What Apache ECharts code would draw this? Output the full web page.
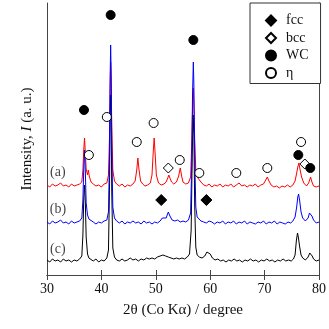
<!DOCTYPE html>
<html>
<head>
<meta charset="utf-8">
<script src="https://cdn.jsdelivr.net/npm/echarts@6/dist/echarts.min.js"></script>
<style>
  html, body {margin:0; padding:0; background:#fff;}
  #wrap1 {width:329px; height:329px;}
</style>
</head>
<body>
<div id="wrap1"></div>
<script>
// x axis ticks (2θ, degree)
var xTicks = [30, 40, 50, 60, 70, 80];

// XRD patterns: [2θ, intensity (a.u., offset)]
var patternA = [[30.0,90],[30.5,88],[31.0,91],[31.5,89],[32.0,90],[32.5,92],[33.0,89],[33.5,90],[34.0,88],[34.5,91],[35.0,89],[35.5,90],[36.0,91],[36.4,93],[36.6,105],[36.75,125],[36.9,137],[37.05,122],[37.2,106],[37.45,100],[37.6,105],[37.8,98],[38.1,93],[38.5,91],[39.0,89],[39.5,90],[40.0,88],[40.5,91],[41.0,92],[41.3,100],[41.5,140],[41.6,185],[41.7,213],[41.8,190],[41.9,150],[42.1,105],[42.4,94],[42.8,91],[43.3,89],[43.8,91],[44.3,88],[44.8,90],[45.3,89],[45.8,91],[46.2,94],[46.5,105],[46.7,117],[46.9,106],[47.2,94],[47.6,91],[48.0,89],[48.5,90],[49.0,92],[49.3,100],[49.55,125],[49.7,137],[49.85,124],[50.1,100],[50.5,92],[51.0,90],[51.5,91],[51.9,93],[52.2,97],[52.4,100],[52.6,97],[52.9,93],[53.3,91],[53.8,93],[54.2,99],[54.5,107],[54.75,99],[55.0,93],[55.5,91],[56.0,92],[56.4,98],[56.6,130],[56.75,165],[56.9,187],[57.0,170],[57.15,135],[57.35,105],[57.6,98],[57.9,97],[58.3,93],[58.8,90],[59.3,89],[59.8,91],[60.3,88],[60.8,90],[61.3,89],[61.8,91],[62.3,88],[62.8,90],[63.3,89],[63.8,91],[64.3,88],[64.8,90],[65.3,92],[65.8,89],[66.3,90],[66.8,88],[67.3,90],[67.8,89],[68.3,91],[68.8,88],[69.3,90],[69.8,91],[70.2,95],[70.5,98],[70.8,94],[71.2,90],[71.7,88],[72.2,89],[72.7,87],[73.2,89],[73.7,88],[74.2,90],[74.7,88],[75.2,90],[75.6,94],[75.9,102],[76.1,108],[76.3,112],[76.5,106],[76.8,98],[77.2,92],[77.7,89],[78.1,92],[78.45,98],[78.7,93],[79.0,89],[79.5,88],[80.0,89]];
var patternB = [[30.0,53],[30.5,51],[31.0,54],[31.5,52],[32.0,53],[32.5,55],[33.0,52],[33.5,53],[34.0,51],[34.5,54],[35.0,52],[35.5,53],[36.0,54],[36.4,57],[36.6,75],[36.75,105],[36.9,125],[37.05,103],[37.2,72],[37.45,60],[37.7,56],[38.0,54],[38.5,53],[39.0,51],[39.5,53],[40.0,52],[40.5,54],[41.0,55],[41.3,63],[41.5,120],[41.6,195],[41.7,230],[41.8,200],[41.9,130],[42.1,68],[42.4,57],[42.8,54],[43.3,52],[43.8,54],[44.3,51],[44.8,53],[45.3,52],[45.8,54],[46.3,52],[46.8,53],[47.3,51],[47.8,54],[48.3,52],[48.8,53],[49.3,51],[49.8,53],[50.3,52],[50.8,54],[51.2,57],[51.5,55],[51.9,57],[52.3,63],[52.6,59],[53.0,55],[53.5,54],[54.0,55],[54.5,53],[55.0,54],[55.5,53],[56.0,55],[56.4,62],[56.6,110],[56.75,180],[56.9,213],[57.0,190],[57.15,120],[57.35,68],[57.6,58],[57.9,56],[58.3,54],[58.8,53],[59.3,52],[59.8,54],[60.3,53],[60.8,51],[61.3,53],[61.8,52],[62.3,54],[62.8,51],[63.3,53],[63.8,52],[64.3,54],[64.8,51],[65.3,53],[65.8,52],[66.3,54],[66.8,51],[67.3,53],[67.8,52],[68.3,51],[68.8,53],[69.3,52],[69.8,54],[70.3,51],[70.8,53],[71.3,52],[71.8,54],[72.3,51],[72.8,53],[73.3,52],[73.8,51],[74.3,53],[74.8,52],[75.2,54],[75.6,58],[75.9,68],[76.1,78],[76.25,81],[76.45,74],[76.7,63],[77.0,57],[77.5,54],[78.0,57],[78.25,62],[78.45,64],[78.7,59],[79.0,55],[79.5,52],[80.0,53]];
var patternC = [[30.0,15],[30.5,13],[31.0,16],[31.5,14],[32.0,15],[32.5,13],[33.0,16],[33.5,14],[34.0,15],[34.5,13],[35.0,15],[35.5,14],[36.0,16],[36.4,19],[36.6,40],[36.75,75],[36.9,90],[37.05,72],[37.2,38],[37.45,21],[37.7,17],[38.0,15],[38.5,14],[39.0,16],[39.5,13],[40.0,15],[40.5,14],[41.0,17],[41.3,25],[41.5,90],[41.6,160],[41.7,180],[41.8,155],[41.9,85],[42.1,27],[42.4,18],[42.8,15],[43.3,14],[43.8,16],[44.3,14],[44.8,15],[45.3,17],[45.8,15],[46.3,16],[46.8,14],[47.3,16],[47.8,15],[48.3,17],[48.8,16],[49.3,17],[49.8,16],[50.3,18],[50.8,19],[51.3,20],[51.8,19],[52.3,18],[52.8,17],[53.3,16],[53.8,17],[54.3,16],[54.8,17],[55.3,16],[55.8,18],[56.2,21],[56.5,45],[56.7,120],[56.85,160],[57.0,140],[57.15,70],[57.35,28],[57.6,20],[58.0,18],[58.5,17],[59.0,19],[59.4,23],[59.7,25],[60.0,21],[60.4,17],[60.9,15],[61.4,16],[61.9,14],[62.4,15],[62.9,13],[63.4,15],[63.9,14],[64.4,16],[64.9,14],[65.4,15],[65.9,13],[66.4,15],[66.9,14],[67.4,16],[67.9,14],[68.4,15],[68.9,13],[69.4,15],[69.9,14],[70.4,16],[70.9,14],[71.4,15],[71.9,13],[72.4,15],[72.9,14],[73.4,16],[73.9,14],[74.4,15],[74.9,14],[75.3,16],[75.6,20],[75.85,35],[76.05,42],[76.2,38],[76.45,28],[76.7,20],[77.0,17],[77.5,15],[78.0,18],[78.3,22],[78.5,23],[78.75,19],[79.0,16],[79.5,14],[80.0,15]];

// phase markers
var fccMarks = [[51.0,75],[59.3,75]];
var bccMarks = [[52.3,107],[77.4,111]];
var wcMarks  = [[36.8,165],[41.7,260],[56.9,235],[76.2,120],[78.4,107]];
var etaMarks = [[37.7,120],[41.0,158],[46.5,133],[49.6,152],[54.4,115],[58.0,102],[64.8,102],[70.5,107],[76.7,133]];

// sample labels and where they sit
var sampleNames = ['(a)', '(b)', '(c)'];
var sampleLabelAt = [[32.0,103],[32.0,66],[32.0,26]];

var serif = '"Liberation Serif", "Times New Roman", serif';
var frame = '#444';

var myChart = echarts.init(document.getElementById('wrap1'));

function patternLine(name, data, color) {
    return {
        name: name, type: 'line', data: data,
        showSymbol: false, symbol: 'none',
        lineStyle: {color: color, width: 1},
        silent: true
    };
}

function markSeries(name, data, symbol, size, filled) {
    return {
        name: name, type: 'scatter', data: data,
        symbol: symbol, symbolSize: size,
        itemStyle: {
            color: filled ? '#000' : '#fff',
            borderColor: '#000',
            borderWidth: 1,
            opacity: 1
        },
        z: 5
    };
}

var option = {
    backgroundColor: '#fff',
    animation: false,
    grid: {left: 47, right: 8, top: 3, bottom: 54},
    legend: {
        left: 250, top: 3,
        orient: 'vertical',
        data: ['fcc', 'bcc', 'WC', 'η'],
        itemWidth: 10, itemHeight: 10,
        itemGap: 2.5,
        padding: [10, 12, 3, 15],
        borderColor: '#333', borderWidth: 1,
        backgroundColor: '#fff',
        textStyle: {fontFamily: serif, fontSize: 14, color: '#111', lineHeight: 15, padding: [0, 0, 0, 5]}
    },
    xAxis: [{
        type: 'value', min: xTicks[0], max: xTicks[xTicks.length - 1], interval: 10,
        name: '2θ (Co Kα) / degree',
        nameLocation: 'middle', nameGap: 28,
        nameTextStyle: {fontFamily: serif, fontSize: 15, color: '#111'},
        axisLine: {lineStyle: {color: frame}},
        axisTick: {inside: true, length: 5, lineStyle: {color: frame}},
        axisLabel: {fontFamily: serif, fontSize: 14, color: '#111', margin: 7},
        splitLine: {show: false}
    }, {
        type: 'value', position: 'top', min: xTicks[0], max: xTicks[xTicks.length - 1], interval: 10,
        axisLine: {lineStyle: {color: frame}},
        axisTick: {inside: true, length: 5, lineStyle: {color: frame}},
        axisLabel: {show: false},
        splitLine: {show: false}
    }],
    yAxis: [{
        type: 'value', min: 0, max: 272,
        name: 'Intensity, {i|I} (a. u.)',
        nameLocation: 'middle', nameGap: 12,
        nameTextStyle: {
            fontFamily: serif, fontSize: 15, color: '#111',
            rich: {i: {fontFamily: serif, fontSize: 15, fontStyle: 'italic', color: '#111'}}
        },
        axisLine: {show: true, lineStyle: {color: frame}},
        axisTick: {show: false},
        axisLabel: {show: false},
        splitLine: {show: false}
    }, {
        type: 'value', position: 'right', min: 0, max: 272,
        axisLine: {show: true, lineStyle: {color: frame}},
        axisTick: {show: false},
        axisLabel: {show: false},
        splitLine: {show: false}
    }],
    series: [
        patternLine('a', patternA, '#ff0000'),
        patternLine('c', patternC, '#000000'),
        patternLine('b', patternB, '#0000ff'),
        markSeries('fcc', fccMarks, 'diamond', 11, true),
        markSeries('bcc', bccMarks, 'diamond', 10, false),
        markSeries('WC', wcMarks, 'circle', 9, true),
        markSeries('η', etaMarks, 'circle', 9, false),
        {
            // (a) (b) (c) labels
            name: 'labels', type: 'scatter', symbolSize: 0,
            data: sampleLabelAt.map(function (p, i) {
                return {value: p, name: sampleNames[i]};
            }),
            label: {
                show: true, position: 'inside', formatter: '{b}',
                fontFamily: serif, fontSize: 14, color: '#111'
            },
            silent: true
        }
    ]
};
myChart.setOption(option);
</script>
</body>
</html>
